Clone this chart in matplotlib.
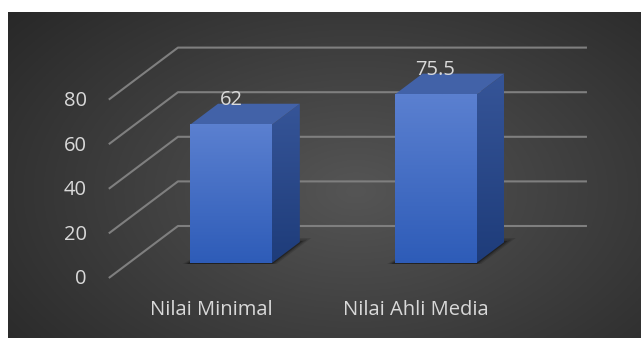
import numpy as np
import matplotlib
matplotlib.use("Agg")
import matplotlib.pyplot as plt
from matplotlib.patches import Polygon

# chart data
categories = ["Nilai Minimal", "Nilai Ahli Media"]
values = [62, 75.5]
value_labels = ["62", "75.5"]
ticks = [0, 20, 40, 60, 80]

W, H = 641, 338
K = 2.23        # px per value unit
CAT = 204.5     # px between categories
X0 = 231        # px of first bar centre
BASE = 263      # px (from top) of bar front baseline
BAR_W = 0.40
# oblique depth: per depth px -> 1.33 px right, 1 px up
DZX = 1.33 / CAT
DZY = 1.0 / K
Z_FRONT, Z_BACK = -15, 37
BAR_Z0, BAR_Z1 = 0, 21
WALL_L, WALL_R = -0.5, 1.5

TXT = "#d9d9d9"
GRID = "#7f7f7f"
FS = 14.5
plt.rcParams["font.family"] = ["Open Sans", "DejaVu Sans"]


def P(x, y, z):
    return (x + z * DZX, y + z * DZY)


def vgrad(top, bottom, n=100):
    g = np.linspace(0, 1, n)[:, None, None]
    t = np.array(top)[None, None, :] / 255
    b = np.array(bottom)[None, None, :] / 255
    return t * (1 - g) + b * g


fig = plt.figure(figsize=(W / 100, H / 100), dpi=100)
fig.patch.set_facecolor("white")

# dark radial background
bg = fig.add_axes([8 / W, 0, (W - 8) / W, (H - 12) / H])
bg.set_axis_off()
gx, gy = np.meshgrid(np.linspace(0, 1, 400), np.linspace(0, 1, 220))
r = np.sqrt(((gx - 0.55) / 0.75) ** 2 + ((gy - 0.55) / 0.9) ** 2)
r = np.clip(r, 0, 1)
c_in = np.array([0x55, 0x55, 0x55]) / 255
c_out = np.array([0x26, 0x26, 0x26]) / 255
img = c_in[None, None, :] * (1 - r[..., None]) + c_out[None, None, :] * r[..., None]
bg.imshow(img, aspect="auto", extent=(0, 1, 0, 1), origin="upper")
bg.set_xlim(0, 1)
bg.set_ylim(0, 1)

ax = fig.add_axes([0, 0, 1, 1])
ax.set_axis_off()
ax.patch.set_alpha(0)

# walls: diagonals on left side, horizontals on back
for t in ticks:
    a = P(WALL_L, t, Z_FRONT)
    b = P(WALL_L, t, Z_BACK)
    c = P(WALL_R, t, Z_BACK)
    ax.plot([a[0], b[0], c[0]], [a[1], b[1], c[1]], color=GRID, lw=1.5,
            solid_capstyle="butt", zorder=1)
    ax.annotate(str(t), xy=a, xytext=(-16, -1), textcoords="offset points",
                ha="right", va="center", color=TXT, fontsize=FS)

# bars
for i, v in enumerate(values):
    xl, xr = i - BAR_W / 2, i + BAR_W / 2
    # soft shadow on the floor
    for k, al in enumerate([0.12, 0.18, 0.3]):
        e = 0.03 - k * 0.01
        ez = 4 - k * 1.5
        sh = [P(xl - e, 0, BAR_Z0 - 1), P(xr + e, 0, BAR_Z0 - 1),
              P(xr + e, 0, BAR_Z1 + ez), P(xl + 0.02, 0, BAR_Z1 + ez)]
        ax.add_patch(Polygon(sh, closed=True, fc="black", ec="none", alpha=al, zorder=2))
    # side face
    side = Polygon([P(xr, 0, BAR_Z0), P(xr, v, BAR_Z0), P(xr, v, BAR_Z1), P(xr, 0, BAR_Z1)],
                   closed=True, fc="none", ec="none", zorder=3)
    ax.add_patch(side)
    im = ax.imshow(vgrad((0x36, 0x55, 0x98), (0x1e, 0x3c, 0x7a)), aspect="auto",
                   extent=(xr, P(xr, 0, BAR_Z1)[0], 0, P(xr, v, BAR_Z1)[1]),
                   origin="upper", zorder=3)
    im.set_clip_path(side)
    # top face
    ax.add_patch(Polygon([P(xl, v, BAR_Z0), P(xr, v, BAR_Z0), P(xr, v, BAR_Z1), P(xl, v, BAR_Z1)],
                         closed=True, fc="#4262a8", ec="none", zorder=3))
    # front face with gradient
    ax.imshow(vgrad((0x5b, 0x80, 0xd0), (0x2e, 0x5c, 0xb8)), aspect="auto",
              extent=(xl, xr, 0, v), origin="upper", zorder=4)
    ax.annotate(value_labels[i], xy=(i, v), xytext=(0, 18), textcoords="offset points",
                ha="center", va="center", color=TXT, fontsize=FS, zorder=5)

# category labels along the front edge of the floor
for i, name in enumerate(categories):
    ax.annotate(name, xy=P(i, 0, Z_FRONT), xytext=(0, -23), textcoords="offset points",
                ha="center", va="center", color=TXT, fontsize=FS)

ax.set_xlim(-X0 / CAT, (W - X0) / CAT)
ax.set_ylim(-(H - BASE) / K, BASE / K)
fig.savefig("out.png", dpi=100, facecolor=fig.get_facecolor())
